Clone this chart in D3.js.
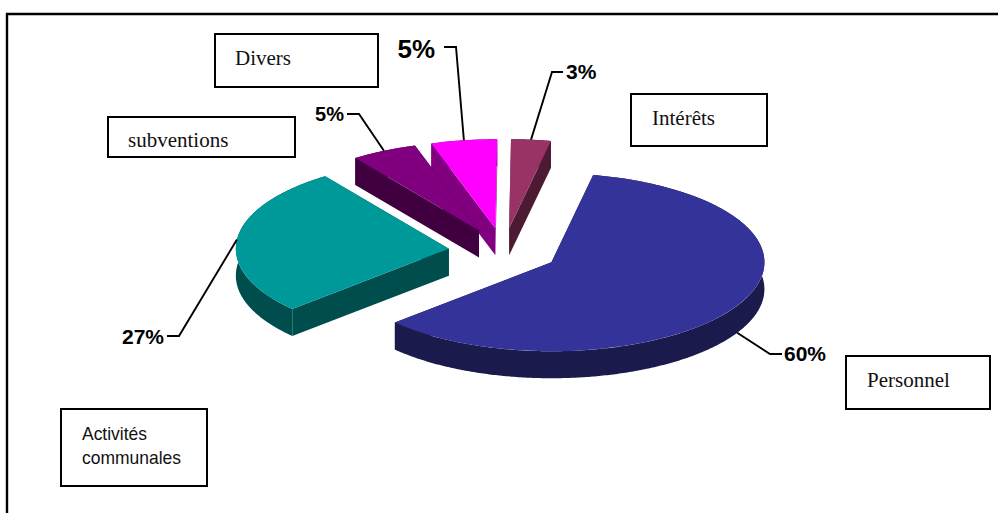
<!DOCTYPE html>
<html lang="fr">
<head>
<meta charset="utf-8">
<title>Répartition des dépenses</title>
<script src="https://cdn.jsdelivr.net/npm/d3@7"></script>
<style>
  html, body { margin: 0; padding: 0; background: #fff; }
  svg { display: block; }
  .box { fill: #fff; stroke: #000; stroke-width: 2; }
  .serif { font-family: "Liberation Serif", serif; font-size: 21px; fill: #111; }
  .sans { font-family: "Liberation Sans", sans-serif; font-size: 19px; fill: #111; }
  .pct { font-family: "Liberation Sans", sans-serif; font-weight: bold; fill: #000; }
  .leader { fill: none; stroke: #000; stroke-width: 1.9; }
</style>
</head>
<body>
<svg id="chart" width="998" height="513"></svg>
<script>
// Budget shares, in the order the slices run clockwise
const categories = ["Personnel", "Activités communales", "subventions", "Divers", "Intérêts"];
const shares = [60, 27, 5, 5, 3];
const topColors = ["#333399", "#009999", "#800080", "#ff00ff", "#993366"];
const sideColors = ["#1a1a4d", "#004d4d", "#400040", "#800080", "#4d1a33"];

// Percentage label placement per slice: elbow of the leader, its end, text offset
const elbows = [[770, 354], [179, 336], [359, 114], [456, 47], [552, 72]];
const leaderEnds = [[782, 354], [167, 336], [347, 114], [444, 47], [563, 72]];
const labelSizes = [21, 21, 20, 26, 21];
const labelBaselines = [361, 344, 121, 58, 79];
const labelAnchors = ["start", "end", "end", "end", "start"];
const labelGaps = [2, -3, -3, -9, 3];

// Category boxes: x, y, width, height and text lines
const boxFrames = [
  [846, 356, 144, 53], [61, 409, 146, 77], [108, 117, 187, 40], [215, 34, 163, 53], [631, 94, 136, 52]
];
const boxTextStarts = [[867, 387], [82, 440], [128, 147], [235, 65], [652, 125]];
const boxLines = [["Personnel"], ["Activités", "communales"], ["subventions"], ["Divers"], ["Intérêts"]];

// Pie projection
const centerX = 503.5, centerY = 251;
const radiusX = 213, radiusY = 89, depth = 27;
const explode = 0.258;
const startAngle = 11.3 * Math.PI / 180;

const svg = d3.select("#chart");

// Outer frame: top and left rules only
svg.append("path")
  .attr("d", d3.line()([[998, 14], [7, 14], [7, 513]]))
  .attr("fill", "none").attr("stroke", "#000").attr("stroke-width", 2.4);

const arcs = d3.pie().sort(null)
  .startAngle(startAngle).endAngle(startAngle + 2 * Math.PI)(shares);

const topFace = d3.arc().innerRadius(0).outerRadius(radiusX);
const yScale = radiusY / radiusX;
const line = d3.line();

arcs.forEach(a => {
  a.mid = (a.startAngle + a.endAngle) / 2;
  a.apex = [
    centerX + explode * radiusX * Math.sin(a.mid),
    centerY - explode * radiusY * Math.cos(a.mid)
  ];
});

const rimPoint = (a, t) => [a.apex[0] + radiusX * Math.sin(t), a.apex[1] - radiusY * Math.cos(t)];
const drop = p => [p[0], p[1] + depth];

// Extruded rim between two angles, closed along the lower edge
function rimWall(a) {
  const ts = d3.range(a.startAngle, a.endAngle, 0.01).concat([a.endAngle]);
  const upper = ts.map(t => rimPoint(a, t));
  return line(upper.concat(upper.map(drop).reverse())) + "Z";
}
const cutWall = (a, t) => {
  const p = rimPoint(a, t);
  return line([a.apex, p, drop(p), drop(a.apex)]) + "Z";
};

// Paint from the rear slices forward
const paintOrder = [4, 3, 2, 1, 0];
const pie = svg.append("g");
paintOrder.forEach(i => {
  const a = arcs[i];
  const g = pie.append("g");
  [cutWall(a, a.startAngle), cutWall(a, a.endAngle), rimWall(a)].forEach(d =>
    g.append("path").attr("d", d).attr("fill", sideColors[i]));
  g.append("path")
    .attr("d", topFace(a))
    .attr("transform", `translate(${a.apex[0]},${a.apex[1]}) scale(1,${yScale})`)
    .attr("fill", topColors[i]);
});

// Leaders and percentage labels
arcs.forEach((a, i) => {
  const rim = rimPoint(a, a.mid);
  const anchor = Math.cos(a.mid) < 0 ? drop(rim) : rim;
  svg.append("path").attr("class", "leader")
    .attr("d", line([anchor, elbows[i], leaderEnds[i]]));
  svg.append("text").attr("class", "pct")
    .attr("x", leaderEnds[i][0] + labelGaps[i])
    .attr("y", labelBaselines[i])
    .attr("text-anchor", labelAnchors[i])
    .attr("font-size", labelSizes[i])
    .text(`${shares[i]}%`);
});

// Category boxes
categories.forEach((name, i) => {
  const [x, y, w, h] = boxFrames[i];
  svg.append("rect").attr("class", "box")
    .attr("x", x).attr("y", y).attr("width", w).attr("height", h);
  const multi = boxLines[i].length > 1;
  boxLines[i].forEach((txt, k) => {
    const t = svg.append("text")
      .attr("class", multi ? "sans" : "serif")
      .attr("x", boxTextStarts[i][0])
      .attr("y", boxTextStarts[i][1] + k * 24)
      .text(txt);
    if (multi) t.attr("lengthAdjust", "spacingAndGlyphs").attr("textLength", k ? 99 : 65);
  });
});
</script>
</body>
</html>
